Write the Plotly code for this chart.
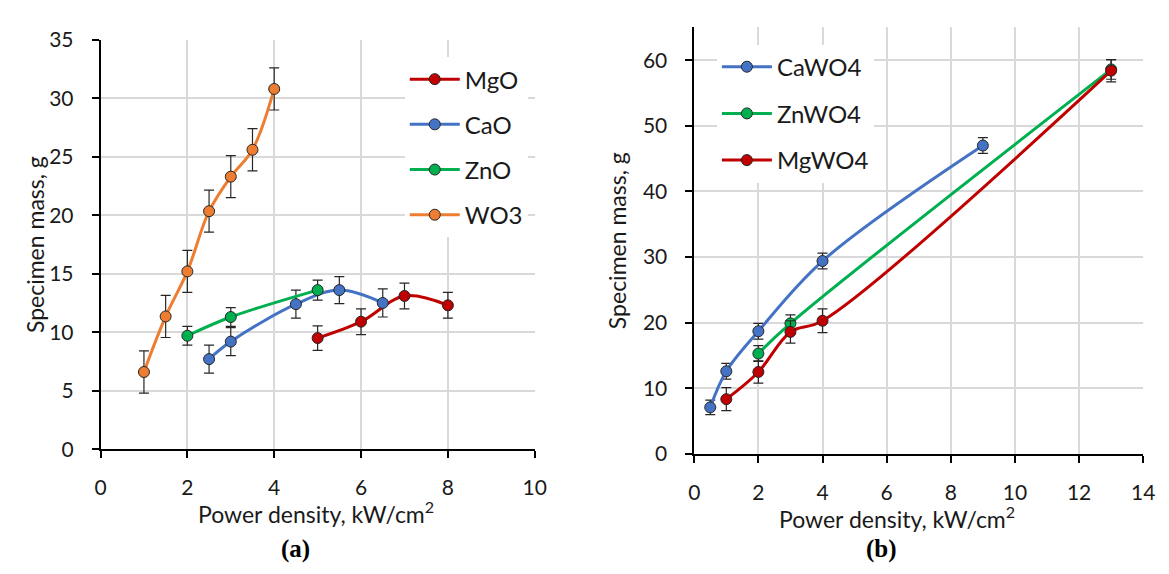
import plotly.graph_objects as go

# ---------------- Panel (a) data ----------------
mgo_x = [5, 6, 7, 8]
mgo_y = [9.5, 10.9, 13.1, 12.3]
mgo_err = [1.05, 1.1, 1.1, 1.1]

cao_x = [2.5, 3, 4.5, 5.5, 6.5]
cao_y = [7.7, 9.2, 12.4, 13.6, 12.5]
cao_err = [1.2, 1.2, 1.2, 1.15, 1.2]

zno_x = [2, 3, 5]
zno_y = [9.7, 11.3, 13.6]
zno_err = [0.8, 0.8, 0.85]

wo3_x = [1, 1.5, 2, 2.5, 3, 3.5, 4]
wo3_y = [6.6, 11.35, 15.2, 20.35, 23.3, 25.6, 30.8]
wo3_err = [1.8, 1.8, 1.8, 1.8, 1.8, 1.8, 1.8]

# ---------------- Panel (b) data ----------------
cawo4_x = [0.5, 1, 2, 4, 9]
cawo4_y = [7.1, 12.6, 18.7, 29.4, 47.0]
cawo4_err = [1.1, 1.2, 1.2, 1.2, 1.2]

znwo4_x = [2, 3, 13]
znwo4_y = [15.3, 19.9, 58.6]
znwo4_err = [1.2, 1.3, 1.5]

mgwo4_x = [1, 2, 3, 4, 13]
mgwo4_y = [8.35, 12.5, 18.6, 20.3, 58.4]
mgwo4_err = [1.75, 1.7, 1.7, 1.8, 1.7]

xticks_a = [0, 2, 4, 6, 8, 10]
yticks_a = [0, 5, 10, 15, 20, 25, 30, 35]
xticks_b = [0, 2, 4, 6, 8, 10, 12, 14]
yticks_b = [0, 10, 20, 30, 40, 50, 60]

RED = "#C00000"
BLUE = "#4472C4"
GREEN = "#00B050"
ORANGE = "#ED7D31"
EDGE = "#262626"
FONT = "Lato"
TXT = "#1a1a1a"

W, H = 1169, 574

fig = go.Figure()


def add(name, xs, ys, errs, color, xa, ya, legend):
    fig.add_trace(go.Scatter(
        x=xs, y=ys, name=name, mode="lines+markers",
        line=dict(color=color, width=3, shape="spline"),
        marker=dict(size=11, color=color, line=dict(color=EDGE, width=1)),
        error_y=dict(type="data", array=errs, visible=True, color=EDGE,
                     thickness=1.2, width=5),
        xaxis=xa, yaxis=ya, legend=legend, legendgroup=name,
    ))


add("MgO", mgo_x, mgo_y, mgo_err, RED, "x", "y", "legend")
add("CaO", cao_x, cao_y, cao_err, BLUE, "x", "y", "legend")
add("ZnO", zno_x, zno_y, zno_err, GREEN, "x", "y", "legend")
add("WO3", wo3_x, wo3_y, wo3_err, ORANGE, "x", "y", "legend")

add("CaWO4", cawo4_x, cawo4_y, cawo4_err, BLUE, "x2", "y2", "legend2")
add("ZnWO4", znwo4_x, znwo4_y, znwo4_err, GREEN, "x2", "y2", "legend2")
add("MgWO4", mgwo4_x, mgwo4_y, mgwo4_err, RED, "x2", "y2", "legend2")

axis_common = dict(
    showgrid=True, gridcolor="#d9d9d9", gridwidth=1.5,
    showline=True, linecolor="black", linewidth=1.5,
    ticks="outside", ticklen=7, tickwidth=1.5, tickcolor="black",
    zeroline=False, tickfont=dict(family=FONT, size=21, color=TXT),
)

fig.update_layout(
    width=W, height=H,
    margin=dict(l=0, r=0, t=0, b=0),
    paper_bgcolor="white", plot_bgcolor="white",
    font=dict(family=FONT, color=TXT),
    xaxis=dict(domain=[96 / W, 537 / W], range=[0, 10], tickvals=xticks_a,
               anchor="y", ticklabelstandoff=12, **axis_common),
    yaxis=dict(domain=[1 - 455 / H, 1 - 27 / H], range=[0, 35], tickvals=yticks_a,
               anchor="x", ticklabelstandoff=14, **axis_common),
    xaxis2=dict(domain=[699 / W, 1155 / W], range=[0, 14], tickvals=xticks_b,
                anchor="y2", ticklabelstandoff=12, **axis_common),
    yaxis2=dict(domain=[1 - 460 / H, 1 - 14 / H], range=[0, 65], tickvals=yticks_b,
                anchor="x2", ticklabelstandoff=14, **axis_common),
    legend=dict(x=405 / W, y=1 - 45 / H, xanchor="left", yanchor="top",
                bgcolor="white", font=dict(family=FONT, size=24, color=TXT),
                tracegroupgap=11, itemwidth=50),
    legend2=dict(x=722 / W, y=1 - 32 / H, xanchor="left", yanchor="top",
                 bgcolor="white", font=dict(family=FONT, size=24, color=TXT),
                 tracegroupgap=12.5, itemwidth=50),
    showlegend=True,
)

title_font = dict(family=FONT, size=23, color=TXT)
ann = [
    dict(text="Power density, kW/cm<sup>2</sup>", x=315 / W, y=1 - 521 / H,
         xanchor="center", yanchor="middle", font=title_font),
    dict(text="Power density, kW/cm<sup>2</sup>", x=905 / W, y=1 - 526 / H,
         xanchor="center", yanchor="middle", font=title_font),
    dict(text="Specimen mass, g", x=29 / W, y=1 - 241 / H, textangle=-90,
         xanchor="center", yanchor="middle", font=title_font),
    dict(text="Specimen mass, g", x=620 / W, y=1 - 237 / H, textangle=-90,
         xanchor="center", yanchor="middle", font=title_font),
    dict(text="<b>(a)</b>", x=294 / W, y=1 - 559 / H, xanchor="center", yanchor="middle",
         font=dict(family="Liberation Serif", size=25, color="black")),
    dict(text="<b>(b)</b>", x=889 / W, y=1 - 559 / H, xanchor="center", yanchor="middle",
         font=dict(family="Liberation Serif", size=25, color="black")),
]
for a in ann:
    a.update(xref="paper", yref="paper", showarrow=False)
fig.update_layout(annotations=ann)

fig.write_html(
    "out.html",
    config={"displayModeBar": False},
    post_script="document.body.style.margin='0';document.body.style.padding='0';",
)
